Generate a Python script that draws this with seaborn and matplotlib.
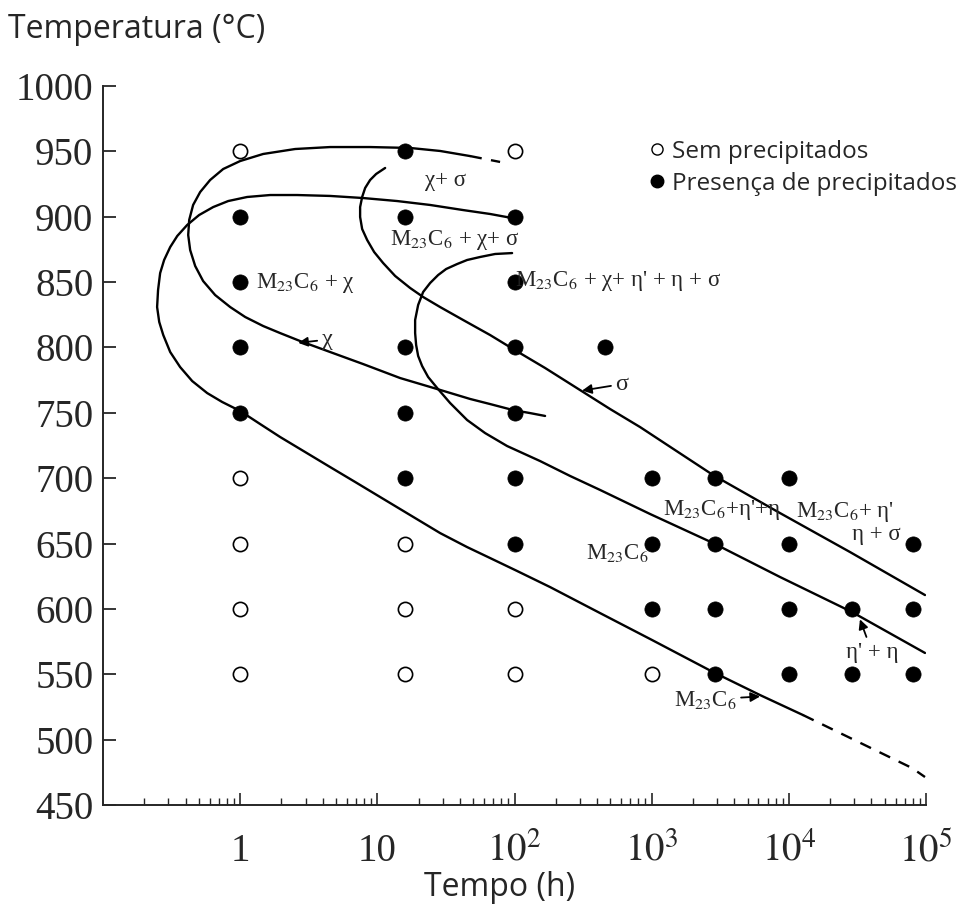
import numpy as np
import pandas as pd
import matplotlib
matplotlib.use("Agg")
import matplotlib.pyplot as plt
from matplotlib.lines import Line2D
from matplotlib.ticker import FixedLocator
import seaborn as sns

sns.set_style("ticks")
plt.rcParams['font.family'] = ['Liberation Serif', 'DejaVu Serif']
plt.rcParams['mathtext.fontset'] = 'stix'

# --- ensaios: pontos sem / com precipitados (tempo h, temperatura C) ---
open_t = [1, 100, 1, 1, 16, 1, 16, 100, 1, 16, 100, 1000]
open_T = [950, 950, 700, 650, 650, 600, 600, 600, 550, 550, 550, 550]

filled_t = [16, 1, 16, 100, 1, 100, 1, 16, 100, 460, 1, 16, 100,
            16, 100, 1000, 2900, 10000,
            100, 1000, 2900, 10000, 80000,
            1000, 2900, 10000, 29000, 80000,
            2900, 10000, 29000, 80000]
filled_T = [950, 900, 900, 900, 850, 850, 800, 800, 800, 800, 750, 750, 750,
            700, 700, 700, 700, 700,
            650, 650, 650, 650, 650,
            600, 600, 600, 600, 600,
            550, 550, 550, 550]

# --- curvas ---
chi_t = [167.1, 129.9, 97.68, 66.42, 47.46, 27.29, 14.66, 7.88, 4.529, 2.737, 1.956, 1.471,
         1.088, 0.846, 0.657, 0.537, 0.470, 0.432, 0.418, 0.425, 0.454, 0.511, 0.604, 0.752,
         1.0, 1.471, 2.517, 4.529, 8.86, 17.34, 28.70, 47.46]
chi_T = [747.6, 749.8, 752.1, 756.7, 760.6, 768.2, 776.6, 787.3, 796.5, 804.9, 811.0, 816.4,
         823.3, 830.9, 840.1, 850.8, 862.3, 874.5, 886.0, 897.5, 909.0, 918.9, 928.1, 936.5,
         942.6, 948.0, 951.8, 953.3, 953.3, 952.6, 950.3, 946.4]
chi_dash_t = [47.46, 78.5]
chi_dash_T = [946.4, 941.9]

m23_t = [96.05, 66.42, 42.22, 24.26, 13.94, 7.88, 4.529, 2.603, 1.654, 1.124, 0.818, 0.636,
         0.502, 0.411, 0.348, 0.309, 0.279, 0.261, 0.252, 0.248, 0.257, 0.275, 0.309, 0.365,
         0.447, 0.575, 0.739, 1.0, 1.399, 1.956, 2.977, 4.529, 6.89, 10.48, 17.34, 28.70,
         45.13, 66.42, 104.5, 181.8, 420.7, 1007, 2803, 6168, 12690]
m23_T = [899.0, 902.1, 905.1, 909.0, 912.0, 914.3, 915.9, 916.6, 916.6, 915.1, 912.0, 907.4,
         901.3, 893.7, 885.3, 876.8, 866.9, 856.9, 843.9, 830.9, 819.5, 809.5, 796.5, 785.0,
         774.3, 765.1, 758.3, 751.4, 741.4, 731.5, 720.0, 708.5, 697.1, 685.6, 671.8, 658.0,
         647.3, 638.9, 629.0, 616.7, 596.8, 576.2, 551.7, 534.1, 518.8]
m23_dash_t = [12690, 79070, 98330]
m23_dash_T = [518.8, 478.3, 471.4]

sigma_t = [11.40, 9.80, 8.86, 8.15, 7.75, 7.49, 7.49, 7.75, 8.43, 9.48, 11.02, 13.48, 17.34,
           21.57, 28.70, 42.22, 66.42, 97.68, 167.1, 300.7, 497.6, 823.3, 1481, 2803, 8628,
           27930, 98330]
sigma_T = [937.3, 932.7, 928.1, 922.0, 915.1, 907.4, 899.8, 890.6, 882.2, 873.0, 864.6, 854.7,
           845.5, 838.6, 830.9, 821.0, 809.5, 798.8, 784.3, 767.4, 752.9, 739.1, 721.5, 702.4,
           673.3, 643.5, 610.6]

eta_t = [96.05, 72.22, 56.14, 45.13, 38.15, 31.73, 27.75, 24.26, 21.57, 19.84, 18.86, 18.86,
         19.18, 19.84, 21.21, 23.46, 27.29, 33.93, 45.13, 61.06, 88.33, 153.7, 254.2, 420.7,
         973.5, 2803, 8628, 28880, 98330]
eta_T = [872.2, 871.5, 869.2, 866.9, 863.8, 860.0, 855.4, 849.3, 842.4, 832.5, 821.0, 811.0,
         801.9, 793.5, 785.8, 777.4, 769.0, 757.5, 744.5, 734.5, 724.6, 713.1, 701.7, 691.0,
         672.6, 650.4, 624.4, 597.6, 566.3]

y_ticks = list(range(450, 1001, 50))
x_ticks = [1, 10, 100, 1000, 10000, 100000]
x_tick_labels = ["1", "10", r"$10^{2}$", r"$10^{3}$", r"$10^{4}$", r"$10^{5}$"]

fig = plt.figure(figsize=(9.68, 9.05), dpi=100)
ax = fig.add_axes([103 / 968, 1 - 805 / 905, (926 - 103) / 968, (805 - 86) / 905])

lw = 1.7
for t, T in [(chi_t, chi_T), (m23_t, m23_T), (sigma_t, sigma_T), (eta_t, eta_T)]:
    sns.lineplot(x=t, y=T, sort=False, estimator=None, color='black', lw=lw, ax=ax)
for t, T in [(chi_dash_t, chi_dash_T), (m23_dash_t, m23_dash_T)]:
    sns.lineplot(x=t, y=T, sort=False, estimator=None, color='black', lw=lw,
                 linestyle=(0, (5, 4)), ax=ax)

sns.scatterplot(x=filled_t, y=filled_T, s=120, color='black', edgecolor='black',
                linewidth=0.5, zorder=3, ax=ax)
sns.scatterplot(x=open_t, y=open_T, s=105, color='white', edgecolor='black',
                linewidth=1.2, zorder=3, ax=ax)

ax.set_xscale('log')
ax.set_xlim(0.1, 1e5)
ax.set_ylim(450, 1000)
ax.set_yticks(y_ticks)
ax.set_yticklabels([str(v) for v in y_ticks])
ax.xaxis.set_major_locator(FixedLocator(x_ticks))
ax.set_xticklabels(x_tick_labels)
minor = [m * 10.0 ** e for e in range(-1, 5) for m in range(2, 10)]
ax.xaxis.set_minor_locator(FixedLocator(minor))
ax.tick_params(axis='y', direction='in', length=9, width=1.3, labelsize=28, pad=7)
ax.tick_params(axis='x', which='major', direction='in', length=9, width=1.2,
               labelsize=28, pad=20)
ax.tick_params(axis='x', which='minor', direction='in', length=5, width=1.0)
for s in ['top', 'right']:
    ax.spines[s].set_visible(False)
for s in ['left', 'bottom']:
    ax.spines[s].set_linewidth(1.4)
ax.set_xlabel('')
ax.set_ylabel('')

fs = 16.5
M = r"M$_{23}$C$_{6}$"
ax.text(31.2, 928, "χ+ σ", fontsize=fs, ha='center', va='center')
ax.text(36.9, 882, M + " + χ+ σ", fontsize=fs, ha='center', va='center')
ax.text(1.31, 849, M + " + χ", fontsize=fs, ha='left', va='center')
ax.text(101, 851, M + " + χ+ η' + η + σ", fontsize=fs, ha='left', va='center')
ax.text(3205, 676, M + "+η'+η", fontsize=fs, ha='center', va='center')
ax.text(25700, 674, M + "+ η'", fontsize=fs, ha='center', va='center')
ax.text(43200, 657, "η + σ", fontsize=fs, ha='center', va='center')
ax.text(560, 643, M, fontsize=fs, ha='center', va='center')

arrow = dict(arrowstyle='-|>', color='black', lw=1.3, mutation_scale=14, shrinkA=1, shrinkB=0)
ax.annotate("χ", xy=(2.65, 803.5), xytext=(4.31, 806), fontsize=fs + 1,
            ha='center', va='center', arrowprops=arrow)
ax.annotate("σ", xy=(311, 767), xytext=(609, 772), fontsize=fs + 1,
            ha='center', va='center', arrowprops=arrow)
ax.annotate("η' + η", xy=(33000, 592), xytext=(40400, 567), fontsize=fs,
            ha='center', va='center', arrowprops=arrow)
ax.annotate(M, xy=(6170, 533), xytext=(2450, 530.6), fontsize=fs,
            ha='center', va='center', arrowprops=arrow)

handles = [Line2D([], [], marker='o', ls='', markersize=8, markerfacecolor='white',
                  markeredgecolor='black', markeredgewidth=1.0),
           Line2D([], [], marker='o', ls='', markersize=9, markerfacecolor='black',
                  markeredgecolor='black')]
fig.legend(handles, ['Sem precipitados', 'Presença de precipitados'], loc='upper left',
           bbox_to_anchor=(648 / 968, 1 - 140 / 905), frameon=False,
           prop={'family': 'Open Sans', 'size': 17.5}, handlelength=0.7,
           handletextpad=0.3, labelspacing=0.32, borderpad=0, borderaxespad=0)

fig.text(8 / 968, 1 - 30 / 905, 'Temperatura (°C)', family='Open Sans', fontsize=23,
         ha='left', va='center')
fig.text(500 / 968, 1 - 887 / 905, 'Tempo (h)', family='Open Sans', fontsize=23,
         ha='center', va='center')

fig.savefig('out.png', dpi=100)
